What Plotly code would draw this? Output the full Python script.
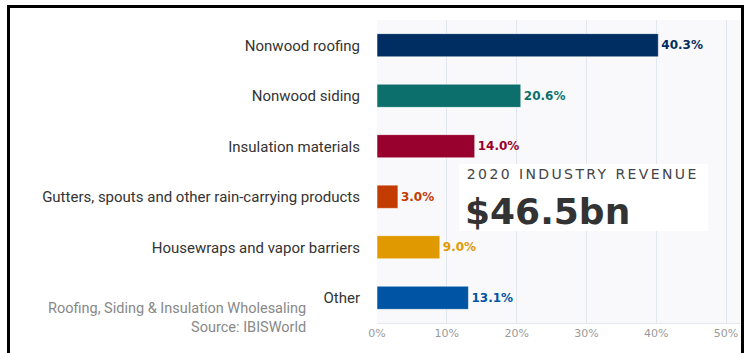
import plotly.graph_objects as go

categories = ["Nonwood roofing", "Nonwood siding", "Insulation materials",
              "Gutters, spouts and other rain-carrying products",
              "Housewraps and vapor barriers", "Other"]
shares = [40.3, 20.6, 14.0, 3.0, 9.0, 13.1]
bar_colors = ["#002e62", "#0c6f6c", "#98002e", "#c23b00", "#e09a00", "#0054a4"]
tick_values = [0, 10, 20, 30, 40, 50]
tick_labels = ["0%", "10%", "20%", "30%", "40%", "50%"]
label_texts = [f"{v:.1f}%" for v in shares]
headline_title = "2020 INDUSTRY REVENUE"
headline_value = "$46.5bn"
footnote = "Roofing, Siding & Insulation Wholesaling<br>Source: IBISWorld"

W, H = 748, 353
L, R, T, B = 377, 8, 20, 30
pw, ph = W - L - R, H - T - B

def px(x):
    return (x - L) / pw

def py(y):
    return (H - B - y) / ph

fig = go.Figure(go.Bar(
    y=categories, x=shares, orientation="h",
    marker=dict(color=bar_colors, line=dict(color="rgba(255,255,255,0.55)", width=1)),
    text=label_texts, textposition="outside", cliponaxis=False,
    textfont=dict(family="DejaVu Sans", size=12, color=bar_colors, weight="bold"),
    width=0.46, hoverinfo="skip",
))

fig.update_layout(
    width=W, height=H, margin=dict(l=L, r=R, t=T, b=B),
    paper_bgcolor="white", plot_bgcolor="#f9f9fb",
    showlegend=False,
    xaxis=dict(range=[0, 52], tickvals=tick_values, ticktext=tick_labels,
               showgrid=True, gridcolor="#e2e6f0", gridwidth=1, zeroline=False,
               showline=True, linecolor="#e2e6f0", linewidth=1,
               tickfont=dict(family="DejaVu Sans", size=11, color="#9a9a9a"),
               ticks="", fixedrange=True),
    yaxis=dict(autorange=False, range=[5.5, -0.5], type="category",
               showgrid=False, zeroline=False, ticks="", ticklabelstandoff=16,
               tickfont=dict(family="Roboto", size=15, color="#333333"),
               fixedrange=True),
    shapes=[
        dict(type="rect", xref="paper", yref="paper",
             x0=px(459), x1=px(708), y0=py(164), y1=py(231),
             fillcolor="white", line=dict(width=0), layer="above"),
        dict(type="rect", xref="paper", yref="paper",
             x0=px(8.5), x1=px(742.5), y0=py(6.5), y1=py(380),
             fillcolor="rgba(0,0,0,0)", line=dict(color="black", width=3), layer="above"),
    ],
    annotations=[
        dict(xref="paper", yref="paper", x=px(490), y=py(174), xanchor="left", yanchor="middle",
             text=headline_title, showarrow=False,
             font=dict(family="DejaVu Sans", size=14, color="#444444")),
        dict(xref="paper", yref="paper", x=px(463), y=py(211), xanchor="left", yanchor="middle",
             text=headline_value, showarrow=False,
             font=dict(family="DejaVu Sans", size=36, color="#333333", weight="bold")),
        dict(xref="paper", yref="paper", x=px(308), y=py(318), xanchor="right", yanchor="middle",
             text=footnote, showarrow=False, align="right",
             font=dict(family="Roboto", size=14.5, color="#888888")),
    ],
)

post = """
var els = document.querySelectorAll('.annotation-text');
els.forEach(function(e){ if (e.textContent.indexOf('INDUSTRY') >= 0) { e.style.letterSpacing = '2.4px'; } });
"""
fig.write_html("out.html", post_script=post)
